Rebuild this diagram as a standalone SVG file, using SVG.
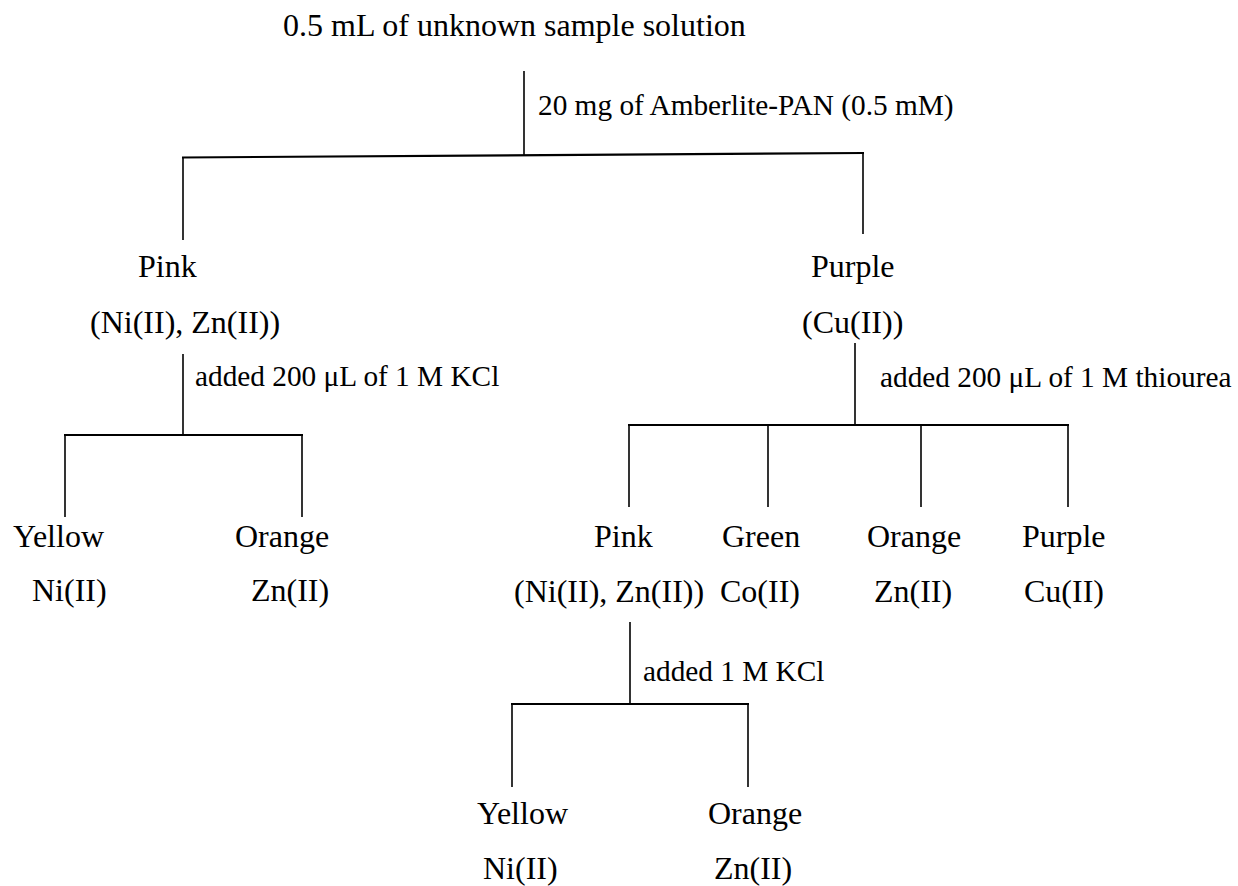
<svg xmlns="http://www.w3.org/2000/svg" width="1238" height="886" viewBox="0 0 1238 886">
<style>
text{font-family:"Liberation Serif","Times New Roman",serif;fill:#000}
.n{font-size:32px}
.l{font-size:29.3px}
.v{stroke:#000;stroke-width:1.6;fill:none}
.h{stroke:#000;stroke-width:2.2;fill:none}
</style>
<rect width="1238" height="886" fill="#fff"/>
<g id="connectors">
<line class="v" x1="524" y1="71" x2="524" y2="155"/>
<line class="h" x1="182" y1="157.5" x2="864" y2="153"/>
<line class="v" x1="183" y1="157.5" x2="183" y2="240"/>
<line class="v" x1="863" y1="153" x2="863" y2="234"/>
<line class="v" x1="183" y1="354" x2="183" y2="435"/>
<line class="h" x1="64" y1="435" x2="303" y2="435"/>
<line class="v" x1="65" y1="435" x2="65" y2="517"/>
<line class="v" x1="302" y1="435" x2="302" y2="517"/>
<line class="v" x1="855" y1="343" x2="855" y2="425"/>
<line class="h" x1="628" y1="425" x2="1069" y2="425"/>
<line class="v" x1="629" y1="425" x2="629" y2="507"/>
<line class="v" x1="768" y1="425" x2="768" y2="507"/>
<line class="v" x1="921" y1="425" x2="921" y2="507"/>
<line class="v" x1="1068" y1="425" x2="1068" y2="507"/>
<line class="v" x1="630" y1="622" x2="630" y2="704"/>
<line class="h" x1="511" y1="704" x2="749" y2="704"/>
<line class="v" x1="512" y1="704" x2="512" y2="787"/>
<line class="v" x1="748" y1="704" x2="748" y2="787"/>
<text class="l" x="538" y="115">20 mg of Amberlite-PAN (0.5 mM)</text>
<text class="l" x="195" y="386">added 200 μL of 1 M KCl</text>
<text class="l" x="880" y="387">added 200 μL of 1 M thiourea</text>
<text class="l" x="643" y="681">added 1 M KCl</text>
</g>
<g id="root"><text class="n" x="283" y="36">0.5 mL of unknown sample solution</text></g>
<g id="pink1"><text class="n" x="138" y="277">Pink</text><text class="n" x="90" y="333">(Ni(II), Zn(II))</text></g>
<g id="purple1"><text class="n" x="811" y="277">Purple</text><text class="n" x="802" y="333">(Cu(II))</text></g>
<g id="yellow1"><text class="n" x="13" y="547">Yellow</text><text class="n" x="32" y="601">Ni(II)</text></g>
<g id="orange1"><text class="n" x="235" y="547">Orange</text><text class="n" x="251" y="601">Zn(II)</text></g>
<g id="pink2"><text class="n" x="594" y="547">Pink</text><text class="n" x="514" y="602">(Ni(II), Zn(II))</text></g>
<g id="green2"><text class="n" x="722" y="547">Green</text><text class="n" x="720" y="602">Co(II)</text></g>
<g id="orange2"><text class="n" x="867" y="547">Orange</text><text class="n" x="874" y="602">Zn(II)</text></g>
<g id="purple2"><text class="n" x="1022" y="547">Purple</text><text class="n" x="1024" y="602">Cu(II)</text></g>
<g id="yellow3"><text class="n" x="477" y="824">Yellow</text><text class="n" x="483" y="879">Ni(II)</text></g>
<g id="orange3"><text class="n" x="708" y="824">Orange</text><text class="n" x="714" y="879">Zn(II)</text></g>
</svg>
